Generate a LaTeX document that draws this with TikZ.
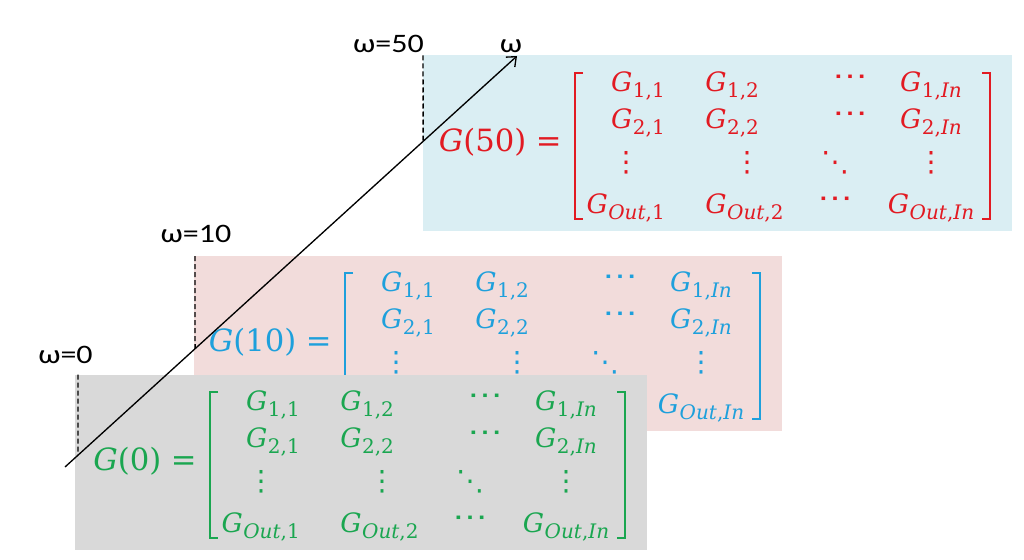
\documentclass[tikz,border=0pt]{standalone}
\usepackage{graphicx}
\usepackage{fontspec}
\newfontfamily\labfont{Carlito}
\newfontfamily\mfont{DejaVu Serif}
\newfontfamily\symfont{DejaVu Sans}
\usetikzlibrary{arrows.meta}
\definecolor{bfill}{RGB}{218,238,243}
\definecolor{pfill}{RGB}{242,220,219}
\definecolor{gfill}{RGB}{217,217,217}
\definecolor{redT}{RGB}{226,26,34}
\definecolor{blueT}{RGB}{30,160,220}
\definecolor{greenT}{RGB}{26,166,80}
% matrix entry G_{sub}
\newcommand\gs[1]{\textit{G}\kern0.02em\raisebox{-0.26em}{\fontsize{15}{17}\selectfont #1}}
\newcommand\hd{\scalebox{1.25}[1]{⋯}}
\tikzset{
  ent/.style={inner sep=0pt, font=\mfont\fontsize{20}{23}\selectfont},
  dots/.style={inner sep=0pt, font=\symfont\fontsize{21}{24}\selectfont},
  mlab/.style={inner sep=0pt, font=\mfont\fontsize{23}{27}\selectfont},
  brk/.style={line width=2.1pt, line cap=butt, line join=miter},
  wlab/.style={inner sep=0pt, font=\labfont\fontsize{20}{24}\selectfont},
  axisline/.style={line width=1pt, -{Straight Barb[length=6pt,width=10pt,line width=1pt]}},
  dashline/.style={line width=1.1pt, dash pattern=on 3.75pt off 2.25pt}
}
% #1 prefix, #2 Lx, #3 Ty, #4 left margin, #5 omega, #6 text colour, #7 fill, #8 full last row (1) or not (0)
\newcommand\gmat[8]{%
\begin{scope}[shift={(#2,#3)}, every node/.append style={text=#6}]
 \fill[#7] (-#4,-17.5) rectangle (437,157.5);
 \node[mlab, anchor=base east] (#1lab) at (-13,78) {\textit{G}(#5) =};
 \draw[brk,draw=#6] (8,0) -- (0,0) -- (0,146) -- (8,146);
 \draw[brk,draw=#6] (407,0) -- (415,0) -- (415,146) -- (407,146);
 \node[ent, anchor=base east] (#1a1) at (90,18) {\gs{1,1}};
 \node[ent, anchor=base west] (#1a2) at (130,18) {\gs{1,2}};
 \node[dots] (#1a3) at (275,7) {\hd};
 \node[ent, anchor=base] (#1a4) at (356,18) {\gs{1,\textit{In}}};
 \node[ent, anchor=base east] (#1b1) at (90,55) {\gs{2,1}};
 \node[ent, anchor=base west] (#1b2) at (130,55) {\gs{2,2}};
 \node[dots] (#1b3) at (275,44) {\hd};
 \node[ent, anchor=base] (#1b4) at (356,55) {\gs{2,\textit{In}}};
 \node[dots] (#1c1) at (51,90) {⋮};
 \node[dots] (#1c2) at (172,90) {⋮};
 \node[dots] (#1c3) at (260,90) {⋱};
 \node[dots] (#1c4) at (356,90) {⋮};
 \ifnum#8=1
 \node[ent, anchor=base east] (#1d1) at (90,140) {\gs{\textit{Out},1}};
 \node[ent, anchor=base west] (#1d2) at (130,140) {\gs{\textit{Out},2}};
 \node[dots] (#1d3) at (260,129) {\hd};
 \fi
 \node[ent, anchor=base] (#1d4) at (356,140) {\gs{\textit{Out},\textit{In}}};
\end{scope}}
\begin{document}
\begin{tikzpicture}[x=0.75pt,y=-0.75pt]
\useasboundingbox (0,0) rectangle (1024,560);
\fill[white] (0,0) rectangle (1024,560);
\gmat{b}{575}{73}{152.3}{50}{redT}{bfill}{1}
\gmat{p}{345}{273}{151}{10}{blueT}{pfill}{0}
\gmat{g}{210}{392}{135}{0}{greenT}{gfill}{1}
% axis
\coordinate (a0) at (65,467);
\coordinate (a1) at (517,56);
\draw[axisline] (a0) -- (a1);
% dashed markers
\coordinate (t50) at (423,55.5);
\coordinate (u50) at (423,500);
\coordinate (t10) at (195,256);
\coordinate (u10) at (195,500);
\coordinate (t0) at (78,374.5);
\coordinate (u0) at (78,500);
\draw[dashline] (t50) -- (intersection of t50--u50 and a0--a1);
\draw[dashline] (t10) -- (intersection of t10--u10 and a0--a1);
\draw[dashline] (t0) -- (intersection of t0--u0 and a0--a1);
% labels
\node[wlab, anchor=base east] (w50) at (424,53) {\scalebox{1.2}[1]{ω=50}};
\node[wlab, anchor=base] (w10) at (196,242) {\scalebox{1.2}[1]{ω=10}};
\node[wlab, anchor=base west] (w0) at (38,363) {\scalebox{1.2}[1]{ω=0}};
\node[wlab, anchor=base] (wax) at (511,53) {\scalebox{1.2}[1]{ω}};
\end{tikzpicture}
\end{document}
